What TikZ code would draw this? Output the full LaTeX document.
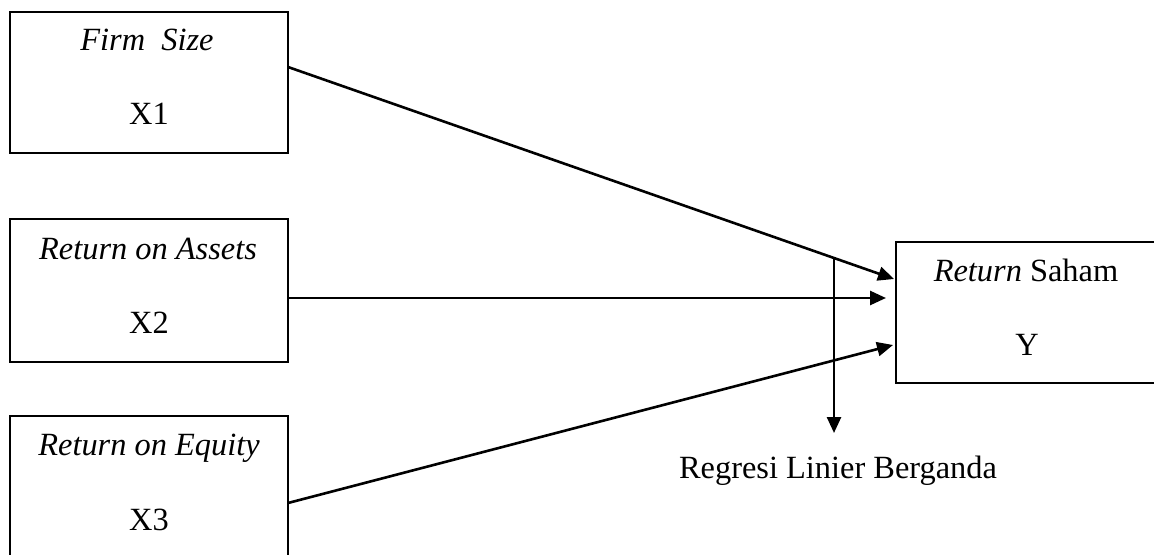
\documentclass[tikz,border=0pt]{standalone}
\usepackage{fontspec}
\setmainfont{Liberation Serif}
\usetikzlibrary{arrows.meta}
\begin{document}
\begin{tikzpicture}[x=0.5pt,y=-0.5pt,
  box/.style={draw,line width=1.3pt,inner sep=0pt,minimum width=139pt},
  lbl/.style={anchor=base,inner sep=0pt,font=\fontsize{16.2}{18}\selectfont},
  conn/.style={line width=1.3pt,-{Triangle[length=8pt,width=7pt]}}]
\useasboundingbox (0,0) rectangle (1154,555);
% boxes
\node[box,minimum height=70.5pt] (x1) at (149,82.5) {};
\node[box,minimum height=71.5pt] (x2) at (149,290.5) {};
\node[box,minimum height=72pt] (x3) at (149,488) {};
\node[box,minimum width=131pt,minimum height=70.5pt] (y) at (1027,312.5) {};
% texts
\node[lbl] (t1a) at (147,51) {\itshape Firm\ \ Size};
\node[lbl] (t1b) at (149,125) {X1};
\node[lbl] (t2a) at (148,260) {\itshape Return on Assets};
\node[lbl] (t2b) at (149,333) {X2};
\node[lbl] (t3a) at (149,455) {\itshape Return on Equity};
\node[lbl] (t3b) at (149,530) {X3};
\node[lbl] (tya) at (1026,282) {\textit{Return} Saham};
\node[lbl] (tyb) at (1027,355) {Y};
\node[lbl] (reg) at (838,478) {Regresi Linier Berganda};
% connector ends
\coordinate (s1) at (288,67);
\coordinate (e1) at (894,279);
\coordinate (s2) at (288,298);
\coordinate (e2) at (886,298);
\coordinate (s3) at (288,503);
\coordinate (e3) at (893,345);
\coordinate (sv) at (834,258);
\coordinate (ev) at (834,433);
\draw[conn] (s1) -- (e1);
\draw[conn] (s2) -- (e2);
\draw[conn] (s3) -- (e3);
\draw[conn] (sv) -- (ev);
\end{tikzpicture}
\end{document}
